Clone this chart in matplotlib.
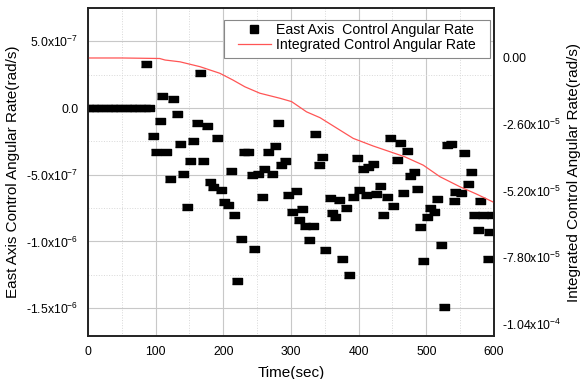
import matplotlib
matplotlib.use("Agg")
import matplotlib.pyplot as plt
from matplotlib.lines import Line2D
from matplotlib.patches import Rectangle

plt.rcParams['font.family'] = ['Liberation Sans', 'DejaVu Sans']
plt.rcParams['mathtext.fontset'] = 'custom'
plt.rcParams['mathtext.rm'] = 'Liberation Sans'

# east axis control angular rate, units of 1e-7 rad/s
t_pts = [0, 7, 14, 21, 28, 35, 42, 49, 56, 63, 70, 77, 84, 91,
         86, 95.5, 101, 106, 110, 116, 121, 126, 131, 136, 141, 146,
         151, 156, 161, 165.5, 170, 176, 180, 185, 191, 196.5, 201, 207,
         211, 216, 221, 226, 231, 237, 242, 246, 252, 257, 260, 266.5,
         271.5, 276, 281, 286, 291, 296, 301, 307, 312, 316, 321, 326,
         332, 335, 341, 346, 350, 357, 360, 365, 371.5, 376, 381, 386,
         391, 397, 401, 406.5, 411.6, 414, 421.6, 425.6, 431.5, 436.4,
         441.4, 446, 451, 456, 461, 466, 471, 476, 481.5, 485.6, 490.6,
         495.5, 501, 505, 512, 516, 521, 526, 530, 537, 541, 543, 551,
         556, 561, 566, 570.5, 576.5, 579, 584, 591.6, 593, 596.5]
v_pts = [0, 0, 0, 0, 0, 0, 0, 0, 0, 0, 0, 0, 0, 0,
         3.3, -2.1, -3.3, -0.95, 0.9, -3.3, -5.3, 0.66, -0.47, -2.72, -4.97, -7.43,
         -3.97, -2.45, -1.15, 2.62, -3.97, -1.37, -5.54, -5.9, -2.28, -6.15, -7.08, -7.3,
         -4.7, -8.02, -12.94, -9.83, -3.26, -3.26, -5.05, -10.56, -4.93, -6.68, -4.56, -3.26,
         -4.93, -2.84, -1.1, -4.24, -4.0, -6.5, -7.8, -6.2, -8.36, -7.57, -8.85, -9.88,
         -8.85, -1.97, -4.25, -3.7, -10.63, -6.72, -7.9, -8.2, -6.89, -11.35, -7.48, -12.5,
         -6.64, -3.78, -6.15, -4.56, -6.5, -4.39, -4.19, -6.44, -5.86, -7.99,
         -6.7, -2.25, -7.38, -3.9, -2.63, -6.4, -3.23, -5.07, -4.8, -6.05, -8.88,
         -11.45, -8.19, -7.52, -7.82, -6.84, -10.28, -14.9, -2.77, -2.67, -6.99, -6.3, -6.35,
         -3.4, -5.66, -4.78, -8.04, -9.12, -6.94, -8.04, -11.35, -9.26, -8.04]

# integrated control angular rate, units of 1e-5 rad/s
t_int = [0, 50, 106, 114, 136, 165.5, 195, 214, 232, 254, 284, 301, 323, 343,
         372, 392, 421.6, 446, 468, 495.5, 520, 550, 574, 600]
v_int = [0, 0, -0.02, -0.08, -0.15, -0.34, -0.60, -0.86, -1.13, -1.38, -1.58, -1.71,
         -2.11, -2.34, -2.82, -3.15, -3.45, -3.67, -3.87, -4.20, -4.65, -5.05, -5.33, -5.66]

left_ticks = [5e-7, 0, -5e-7, -1e-6, -1.5e-6]
left_labels = [r'5.0x10$^{\mathregular{-7}}$', '0.0', r'-5.0x10$^{\mathregular{-7}}$',
               r'-1.0x10$^{\mathregular{-6}}$', r'-1.5x10$^{\mathregular{-6}}$']
right_ticks = [0, -2.6e-5, -5.2e-5, -7.8e-5, -1.04e-4]
right_labels = ['0.00', r'-2.60x10$^{\mathregular{-5}}$', r'-5.20x10$^{\mathregular{-5}}$',
                r'-7.80x10$^{\mathregular{-5}}$', r'-1.04x10$^{\mathregular{-4}}$']

W, H = 586, 379
fig = plt.figure(figsize=(W / 100, H / 100), dpi=100)
ax = fig.add_axes([0.150, 0.113, 0.693, 0.866])
ax2 = ax.twinx()

rect = [(-1, -0.65), (1, -0.65), (1, 0.65), (-1, 0.65)]
ax.plot(t_pts, [v * 1e-7 for v in v_pts], linestyle='none', marker=rect,
        markersize=7.6, color='black')
ax2.plot(t_int, [v * 1e-5 for v in v_int], color='#ff5555', lw=0.9)

ax.set_xlim(0, 600)
ax.set_ylim(-1.71e-6, 7.0e-7)
ax2.set_ylim(-1.09e-4, 1.96e-5)

ax.set_xticks([0, 100, 200, 300, 400, 500, 600])
ax.set_xticks([50, 150, 250, 350, 450, 550], minor=True)
ax.set_yticks(left_ticks)
ax.set_yticklabels(left_labels)
ax.set_yticks([7.5e-7, 2.5e-7, -2.5e-7, -7.5e-7, -1.25e-6], minor=True)
ax2.set_yticks(right_ticks)
ax2.set_yticklabels(right_labels)

ax.grid(True, which='major', color='#c8c8c8', lw=0.8)
ax.grid(True, which='minor', color='#d8d8d8', lw=0.7, linestyle=':')
ax.set_axisbelow(True)

ax.tick_params(which='both', length=0, labelsize=8.8, pad=7)
ax2.tick_params(which='both', length=0, labelsize=8.8, pad=6)

for a in (ax, ax2):
    for s in a.spines.values():
        s.set_linewidth(1.2)
        s.set_color('#222222')

ax.set_xlabel('Time(sec)', fontsize=11, labelpad=6)
ax.set_ylabel('East Axis Control Angular Rate(rad/s)', fontsize=11, labelpad=4)
ax2.set_ylabel('Integrated Control Angular Rate(rad/s)', fontsize=11, labelpad=4)

# legend box drawn by hand, legend itself frameless
box = Rectangle((224 / W, 1 - 58 / H), 266 / W, 38 / H, transform=fig.transFigure,
                facecolor='white', edgecolor='#888888', lw=0.8, zorder=4, clip_on=False)
ax2.add_patch(box)

handles = [Line2D([], [], linestyle='none', marker='s', markersize=6, color='black'),
           Line2D([], [], color='#ff5555', lw=0.9)]
ax2.legend(handles, ['East Axis  Control Angular Rate', 'Integrated Control Angular Rate'],
           loc='upper left', bbox_to_anchor=(238 / W, 1 - 23 / H),
           bbox_transform=fig.transFigure, fontsize=10.2, frameon=False,
           borderpad=0, labelspacing=0.05, handlelength=2.3,
           handletextpad=0.35, borderaxespad=0)

fig.savefig('out.png', dpi=100)
